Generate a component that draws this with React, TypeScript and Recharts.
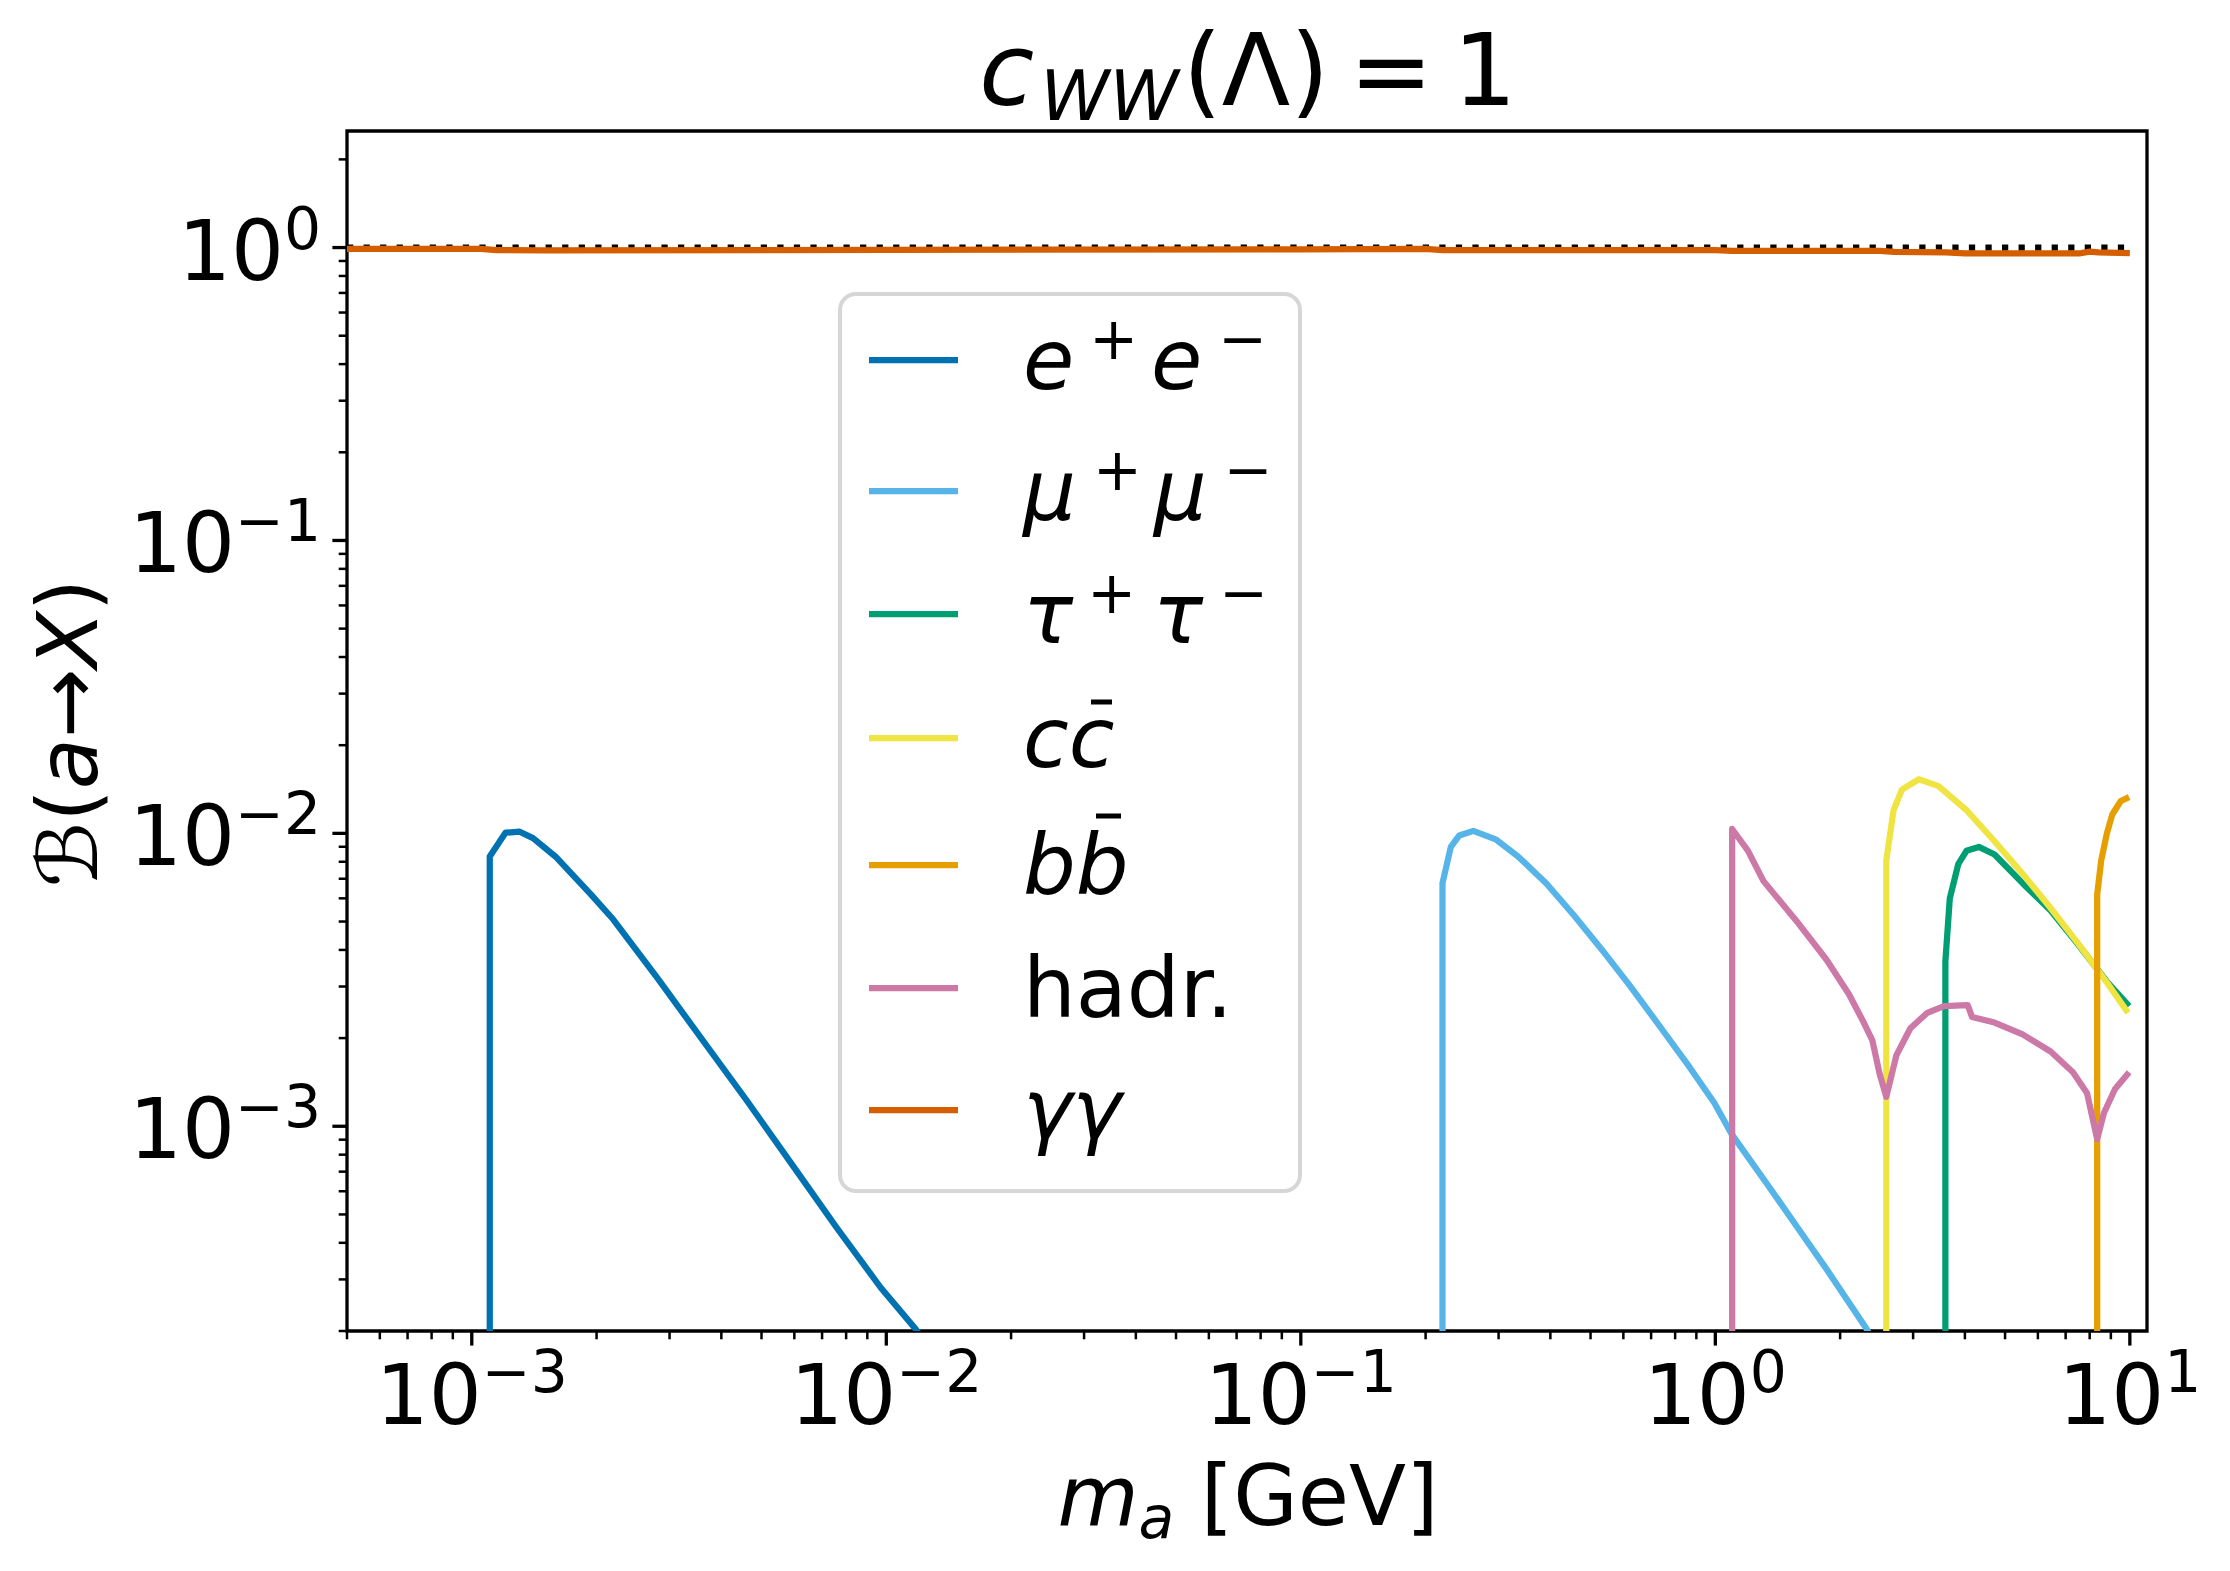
import React from "react";
import {LineChart, Line, XAxis, YAxis, Legend, ReferenceArea} from "recharts";

const FONT = "DejaVu Sans";

// branching ratios, mass in GeV
const eeMass = [1.105e-3, 1.105e-3, 1.206e-3, 1.305e-3, 1.405e-3, 1.591e-3, 1.94e-3, 2.195e-3, 2.811e-3, 3.603e-3, 4.615e-3, 5.909e-3, 7.57e-3, 9.7e-3, 1.177e-2, 1.3e-2];
const eeBR = [1e-8, 8.34e-3, 1.005e-2, 1.013e-2, 9.63e-3, 8.34e-3, 6.18e-3, 5.08e-3, 3.19e-3, 1.97e-3, 1.22e-3, 7.44e-4, 4.53e-4, 2.81e-4, 2.03e-4, 1.67e-4];

const mumuMass = [0.2197, 0.2197, 0.2301, 0.2412, 0.2607, 0.2951, 0.3342, 0.3907, 0.4563, 0.5331, 0.6232, 0.7284, 0.8511, 0.9948, 1.092, 1.358, 1.586, 1.853, 2.318, 2.6];
const mumuBR = [1e-8, 6.76e-3, 8.99e-3, 9.84e-3, 1.02e-2, 9.54e-3, 8.34e-3, 6.76e-3, 5.24e-3, 4.0e-3, 3.01e-3, 2.23e-3, 1.65e-3, 1.2e-3, 9.46e-4, 6.12e-4, 4.47e-4, 3.26e-4, 2.03e-4, 1.5e-4];

const tautauMass = [3.589, 3.589, 3.678, 3.855, 4.035, 4.322, 4.716, 5.51, 6.44, 7.53, 8.8, 9.96];
const tautauBR = [1e-8, 3.65e-3, 5.99e-3, 7.85e-3, 8.72e-3, 8.99e-3, 8.47e-3, 6.76e-3, 5.45e-3, 4.15e-3, 3.12e-3, 2.57e-3];

const ccMass = [2.585, 2.585, 2.692, 2.82, 3.097, 3.455, 4.035, 4.716, 5.51, 6.44, 7.53, 8.8, 9.9];
const ccBR = [1e-8, 8.09e-3, 1.2e-2, 1.41e-2, 1.53e-2, 1.45e-2, 1.2e-2, 9.4e-3, 7.28e-3, 5.56e-3, 4.18e-3, 3.1e-3, 2.44e-3];

const bbMass = [8.34, 8.34, 8.53, 8.8, 9.07, 9.51, 9.96];
const bbBR = [1e-8, 6.18e-3, 8.09e-3, 9.98e-3, 1.16e-2, 1.29e-2, 1.33e-2];

const hadrMass = [1.098, 1.098, 1.198, 1.307, 1.586, 1.853, 2.099, 2.27, 2.391, 2.491, 2.585, 2.735, 2.955, 3.246, 3.562, 4.062, 4.164, 4.716, 5.512, 6.44, 7.29, 7.88, 8.34, 8.66, 9.21, 9.96];
const hadrBR = [1e-8, 1.035e-2, 8.73e-3, 6.87e-3, 4.93e-3, 3.71e-3, 2.83e-3, 2.29e-3, 1.97e-3, 1.51e-3, 1.26e-3, 1.75e-3, 2.16e-3, 2.44e-3, 2.57e-3, 2.59e-3, 2.36e-3, 2.26e-3, 2.06e-3, 1.8e-3, 1.53e-3, 1.3e-3, 9.04e-4, 1.11e-3, 1.34e-3, 1.53e-3];

const gamgamMass = [5e-4, 1.05e-3, 1.15e-3, 1.5e-3, 1e-2, 0.1, 0.2, 0.22, 1.0, 1.1, 2.5, 2.7, 3.6, 4.0, 7.6, 8.0, 8.4, 10];
const gamgamBR = [0.99, 0.99, 0.98, 0.979, 0.982, 0.986, 0.99, 0.98, 0.98, 0.975, 0.975, 0.966, 0.963, 0.956, 0.956, 0.968, 0.962, 0.958];

const totalMass = [5e-4, 10];
const totalBR = [1, 1];

const xMajorTicks = [1e-3, 1e-2, 1e-1, 1, 10];
const xMinorTicks = [5e-4, 6e-4, 7e-4, 8e-4, 9e-4, 2e-3, 3e-3, 4e-3, 5e-3, 6e-3, 7e-3, 8e-3, 9e-3, 2e-2, 3e-2, 4e-2, 5e-2, 6e-2, 7e-2, 8e-2, 9e-2, 0.2, 0.3, 0.4, 0.5, 0.6, 0.7, 0.8, 0.9, 2, 3, 4, 5, 6, 7, 8, 9];
const yMajorTicks = [1e-3, 1e-2, 1e-1, 1];
const yMinorTicks = [2e-4, 3e-4, 4e-4, 5e-4, 6e-4, 7e-4, 8e-4, 9e-4, 2e-3, 3e-3, 4e-3, 5e-3, 6e-3, 7e-3, 8e-3, 9e-3, 2e-2, 3e-2, 4e-2, 5e-2, 6e-2, 7e-2, 8e-2, 9e-2, 0.2, 0.3, 0.4, 0.5, 0.6, 0.7, 0.8, 0.9, 2];

const toPoints = (m: number[], b: number[]) => m.map((x, i) => ({x, y: b[i]}));

const series = [
  {name: "ee", color: "#0072b2", data: toPoints(eeMass, eeBR)},
  {name: "mumu", color: "#56b4e9", data: toPoints(mumuMass, mumuBR)},
  {name: "tautau", color: "#009e73", data: toPoints(tautauMass, tautauBR)},
  {name: "cc", color: "#f0e442", data: toPoints(ccMass, ccBR)},
  {name: "bb", color: "#e69f00", data: toPoints(bbMass, bbBR)},
  {name: "hadr", color: "#cc79a7", data: toPoints(hadrMass, hadrBR)},
  {name: "gamgam", color: "#d55e00", data: toPoints(gamgamMass, gamgamBR)},
];

const decade = (v: number) => {
  const e = Math.round(Math.log10(v));
  return Math.abs(Math.log10(v) - e) < 1e-9 ? e : null;
};
const expText = (e: number) => (e < 0 ? "\u2212" + -e : String(e));

function XTick(props: any) {
  const {x, y, payload} = props;
  const e = decade(payload.value);
  const major = e !== null;
  return (
    <g>
      <line x1={x} x2={x} y1={y} y2={y + (major ? 14.6 : 8.3)} stroke="#000" strokeWidth={major ? 3.3 : 2.5} />
      {major && (
        <text x={x} y={y + 93} textAnchor="middle" fontFamily={FONT} fontSize={83.3} fill="#000">
          10<tspan dy={-32} fontSize={58.3}>{expText(e as number)}</tspan>
        </text>
      )}
    </g>
  );
}

function YTick(props: any) {
  const {x, y, payload} = props;
  const e = decade(payload.value);
  const major = e !== null;
  return (
    <g>
      <line x1={x} x2={x - (major ? 14.6 : 8.3)} y1={y} y2={y} stroke="#000" strokeWidth={major ? 3.3 : 2.5} />
      {major && (
        <text x={x - 26} y={y + 32} textAnchor="end" fontFamily={FONT} fontSize={83.3} fill="#000">
          10<tspan dy={-31} fontSize={58.3}>{expText(e as number)}</tspan>
        </text>
      )}
    </g>
  );
}

const SUP = 58.3;

function pairLabel(sym: string, x: number, y: number, gaps: number[]) {
  return (
    <text x={x} y={y} fontFamily={FONT} fontSize={83.3} fill="#000">
      <tspan fontStyle="italic">{sym}</tspan>
      <tspan dx={gaps[0]} dy={-30} fontSize={SUP}>+</tspan>
      <tspan dx={gaps[1]} dy={30} fontStyle="italic">{sym}</tspan>
      <tspan dx={gaps[2]} dy={-30} fontSize={SUP}>{"\u2212"}</tspan>
    </text>
  );
}

function legendLabel(name: string, x: number, y: number) {
  switch (name) {
    case "ee":
      return pairLabel("e", x, y, [15, 13, 16]);
    case "mumu":
      return pairLabel("\u03bc", x, y, [17, 12, 17]);
    case "tautau":
      return pairLabel("\u03c4", x, y, [14, 17, 16]);
    case "cc":
      return (
        <g>
          <text x={x} y={y} fontFamily={FONT} fontSize={83.3} fontStyle="italic" fill="#000">cc</text>
          <line x1={x + 68} x2={x + 89} y1={y - 65} y2={y - 65} stroke="#000" strokeWidth={5} />
        </g>
      );
    case "bb":
      return (
        <g>
          <text x={x} y={y} fontFamily={FONT} fontSize={83.3} fontStyle="italic" fill="#000">bb</text>
          <line x1={x + 73} x2={x + 98} y1={y - 78} y2={y - 78} stroke="#000" strokeWidth={5} />
        </g>
      );
    case "hadr":
      return <text x={x} y={y} fontFamily={FONT} fontSize={83.3} fill="#000">hadr.</text>;
    default:
      return <text x={x} y={y} fontFamily={FONT} fontSize={83.3} fontStyle="italic" fill="#000">{"\u03b3\u03b3"}</text>;
  }
}

const legendRowY = [68, 199, 322, 446, 573, 696, 818];
const order = series.map((s) => s.name);

function LegendBox(props: any) {
  const items = (props.payload || [])
    .filter((it: any) => order.includes(it.value))
    .sort((a: any, b: any) => order.indexOf(a.value) - order.indexOf(b.value));
  return (
    <svg width={464} height={901} style={{display: "block"}}>
      <rect x={2} y={2} width={460} height={897} rx={16} fill="#fff" fillOpacity={0.8} stroke="#d6d6d6" strokeWidth={4} />
      {items.map((it: any, i: number) => (
        <g key={it.value}>
          <line x1={31} x2={120} y1={legendRowY[i]} y2={legendRowY[i]} stroke={it.color} strokeWidth={6.25} />
          {legendLabel(it.value, 185, legendRowY[i] + 29)}
        </g>
      ))}
    </svg>
  );
}

export default function App() {
  return (
    <div style={{position: "absolute", left: 0, top: 0, background: "#fff"}}>
      <LineChart width={2230} height={1571} margin={{top: 131, right: 83, bottom: 90, left: 147}}>
        <XAxis
          dataKey="x"
          type="number"
          scale="log"
          domain={[5e-4, 11]}
          allowDataOverflow
          ticks={[...xMinorTicks, ...xMajorTicks]}
          interval={0}
          tickSize={0}
          tickMargin={0}
          tickLine={false}
          axisLine={false}
          height={150}
          tick={(p: any) => <XTick {...p} />}
        />
        <YAxis
          type="number"
          scale="log"
          domain={[2e-4, 2.5]}
          allowDataOverflow
          ticks={[...yMinorTicks, ...yMajorTicks]}
          interval={0}
          tickSize={0}
          tickMargin={0}
          tickLine={false}
          axisLine={false}
          width={200}
          tick={(p: any) => <YTick {...p} />}
        />
        <Line
          name="total"
          data={toPoints(totalMass, totalBR)}
          dataKey="y"
          type="linear"
          stroke="#000"
          strokeWidth={6.25}
          strokeDasharray="6.25 10.3"
          dot={false}
          activeDot={false}
          legendType="none"
          isAnimationActive={false}
        />
        {series.map((s) => (
          <Line
            key={s.name}
            name={s.name}
            data={s.data}
            dataKey="y"
            type="linear"
            stroke={s.color}
            strokeWidth={6.25}
            strokeLinejoin="round"
            dot={false}
            activeDot={false}
            isAnimationActive={false}
          />
        ))}
        <ReferenceArea x1={5e-4} x2={11} y1={2e-4} y2={2.5} fill="none" stroke="#000" strokeWidth={3.3} />
        <Legend
          layout="horizontal"
          verticalAlign="middle"
          align="center"
          wrapperStyle={{left: 838, top: 292, width: 464, height: 901}}
          content={(p: any) => <LegendBox {...p} />}
        />
        <text x={1248} y={105} textAnchor="middle" fontFamily={FONT} fontSize={100} fill="#000">
          <tspan fontStyle="italic">c</tspan>
          <tspan dx={6} dy={15} fontSize={70} fontStyle="italic">WW</tspan>
          <tspan dx={4} dy={-15}>({"\u039b"})</tspan>
          <tspan dx={20}>=</tspan>
          <tspan dx={20}>1</tspan>
        </text>
        <text x={1248} y={1525} textAnchor="middle" fontFamily={FONT} fontSize={83.3} fill="#000">
          <tspan fontStyle="italic">m</tspan>
          <tspan dy={12.5} fontSize={SUP} fontStyle="italic">a</tspan>
          <tspan dy={-12.5}> [GeV]</tspan>
        </text>
        <text x={97} y={733} transform="rotate(-90 97 733)" textAnchor="middle" fontFamily={FONT} fontSize={83.3} fill="#000">
          {"\u212c("}
          <tspan fontStyle="italic">a</tspan>
          {"\u2192"}
          <tspan fontStyle="italic">X</tspan>
          {")"}
        </text>
      </LineChart>
    </div>
  );
}
